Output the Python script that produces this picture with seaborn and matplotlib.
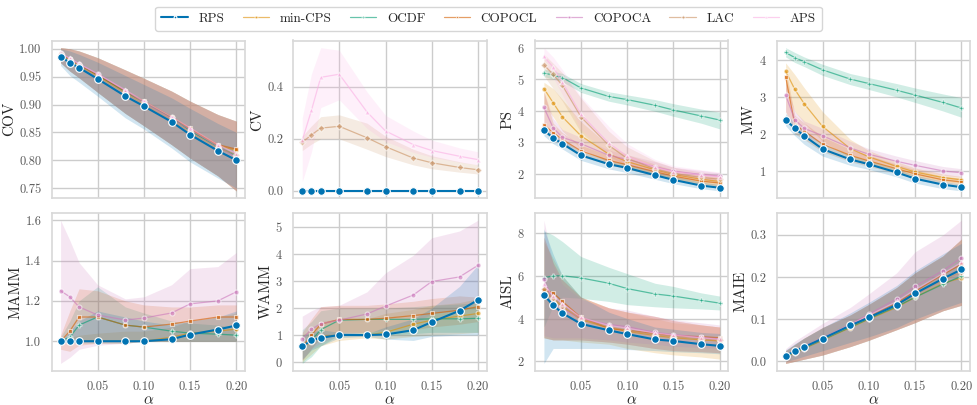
import numpy as np
import pandas as pd
import seaborn as sns
import matplotlib.pyplot as plt

# x values (significance level)
alphas = [0.01, 0.02, 0.03, 0.05, 0.08, 0.10, 0.13, 0.15, 0.18, 0.20]

methods = ["RPS", "min-CPS", "OCDF", "COPOCL", "COPOCA", "LAC", "APS"]
colors = ["#0173b2", "#de8f05", "#029e73", "#d55e00", "#cc78bc", "#ca9161", "#fbafe4"]
markers = ["o", "o", "P", "s", "o", "D", "^"]

# ---- COV ----
cov_mean = {
    "RPS": [0.986, 0.975, 0.966, 0.946, 0.915, 0.897, 0.869, 0.846, 0.817, 0.800],
    "min-CPS": [0.990, 0.980, 0.970, 0.952, 0.922, 0.904, 0.876, 0.855, 0.826, 0.818],
    "OCDF": [0.990, 0.980, 0.971, 0.953, 0.923, 0.905, 0.877, 0.853, 0.824, 0.808],
    "COPOCL": [0.991, 0.981, 0.971, 0.953, 0.924, 0.906, 0.878, 0.857, 0.828, 0.820],
    "COPOCA": [0.992, 0.982, 0.972, 0.955, 0.925, 0.904, 0.875, 0.855, 0.825, 0.805],
    "LAC": [0.990, 0.980, 0.970, 0.950, 0.920, 0.900, 0.872, 0.850, 0.822, 0.810],
    "APS": [0.992, 0.983, 0.973, 0.955, 0.926, 0.906, 0.878, 0.858, 0.828, 0.812],
}
cov_lo_rps = [0.970, 0.952, 0.940, 0.915, 0.876, 0.856, 0.822, 0.797, 0.768, 0.750]
cov_hi_rps = [1.000, 0.996, 0.990, 0.976, 0.952, 0.936, 0.912, 0.893, 0.866, 0.850]
cov_lo_oth = [0.975, 0.960, 0.948, 0.922, 0.884, 0.862, 0.828, 0.804, 0.772, 0.745]
cov_hi_oth = [1.002, 1.000, 0.996, 0.984, 0.962, 0.947, 0.924, 0.906, 0.882, 0.870]
cov_lo = {m: (cov_lo_rps if m == "RPS" else cov_lo_oth) for m in cov_mean}
cov_hi = {m: (cov_hi_rps if m == "RPS" else cov_hi_oth) for m in cov_mean}

# ---- CV ----
cv_mean = {
    "RPS": [0.0] * 10,
    "LAC": [0.187, 0.215, 0.241, 0.248, 0.204, 0.170, 0.126, 0.108, 0.090, 0.081],
    "APS": [0.194, 0.310, 0.436, 0.448, 0.303, 0.230, 0.178, 0.155, 0.133, 0.120],
}
cv_lo = {
    "RPS": [0.0] * 10,
    "LAC": [0.155, 0.180, 0.200, 0.200, 0.160, 0.132, 0.100, 0.085, 0.072, 0.065],
    "APS": [0.035, 0.150, 0.320, 0.350, 0.240, 0.190, 0.148, 0.130, 0.110, 0.100],
}
cv_hi = {
    "RPS": [0.0] * 10,
    "LAC": [0.210, 0.250, 0.285, 0.292, 0.260, 0.210, 0.160, 0.135, 0.112, 0.100],
    "APS": [0.280, 0.450, 0.550, 0.540, 0.380, 0.290, 0.230, 0.195, 0.165, 0.150],
}

# ---- PS ----
ps_mean = {
    "RPS": [3.38, 3.13, 2.95, 2.58, 2.30, 2.18, 1.95, 1.80, 1.62, 1.55],
    "min-CPS": [4.70, 4.25, 3.80, 3.20, 2.62, 2.38, 2.12, 1.97, 1.82, 1.75],
    "OCDF": [5.20, 5.12, 5.05, 4.72, 4.45, 4.35, 4.17, 4.02, 3.83, 3.70],
    "COPOCL": [3.55, 3.30, 3.08, 2.72, 2.42, 2.28, 2.06, 1.92, 1.76, 1.70],
    "COPOCA": [4.10, 3.45, 3.15, 2.95, 2.58, 2.45, 2.22, 2.08, 1.97, 1.92],
    "LAC": [5.45, 5.15, 4.80, 3.80, 2.90, 2.48, 2.15, 2.00, 1.88, 1.82],
    "APS": [5.72, 5.38, 4.90, 3.88, 2.97, 2.55, 2.20, 2.06, 1.95, 1.90],
}
ps_lo = {
    "RPS": [3.20, 2.95, 2.78, 2.42, 2.15, 2.03, 1.82, 1.68, 1.52, 1.45],
    "min-CPS": [4.20, 3.80, 3.35, 2.80, 2.35, 2.15, 1.95, 1.82, 1.68, 1.60],
    "OCDF": [5.08, 5.00, 4.92, 4.58, 4.30, 4.18, 3.98, 3.82, 3.60, 3.42],
    "COPOCL": [3.30, 3.10, 2.90, 2.55, 2.28, 2.14, 1.94, 1.80, 1.66, 1.60],
    "COPOCA": [3.50, 3.20, 2.95, 2.75, 2.40, 2.28, 2.08, 1.95, 1.85, 1.80],
    "LAC": [5.10, 4.70, 4.30, 3.30, 2.55, 2.25, 1.98, 1.86, 1.76, 1.70],
    "APS": [5.45, 5.05, 4.50, 3.40, 2.60, 2.30, 2.02, 1.90, 1.80, 1.75],
}
ps_hi = {
    "RPS": [3.50, 3.25, 3.07, 2.70, 2.42, 2.30, 2.07, 1.92, 1.73, 1.65],
    "min-CPS": [4.90, 4.70, 4.35, 3.65, 2.90, 2.60, 2.30, 2.12, 1.95, 1.88],
    "OCDF": [5.32, 5.25, 5.18, 4.86, 4.60, 4.50, 4.35, 4.22, 4.05, 3.95],
    "COPOCL": [4.60, 3.60, 3.30, 2.90, 2.58, 2.42, 2.20, 2.05, 1.88, 1.80],
    "COPOCA": [4.60, 3.75, 3.40, 3.15, 2.75, 2.60, 2.38, 2.20, 2.10, 2.02],
    "LAC": [5.80, 5.50, 5.20, 4.40, 3.35, 2.85, 2.40, 2.20, 2.05, 1.95],
    "APS": [6.00, 5.70, 5.30, 4.45, 3.50, 2.95, 2.45, 2.25, 2.12, 2.05],
}

# ---- MW ----
mw_mean = {
    "RPS": [2.38, 2.15, 1.95, 1.59, 1.31, 1.18, 0.96, 0.79, 0.63, 0.56],
    "min-CPS": [3.70, 3.20, 2.82, 2.20, 1.60, 1.38, 1.12, 0.97, 0.82, 0.76],
    "OCDF": [4.20, 4.06, 3.95, 3.73, 3.48, 3.36, 3.18, 3.05, 2.85, 2.70],
    "COPOCL": [3.55, 2.25, 2.08, 1.72, 1.42, 1.27, 1.06, 0.92, 0.76, 0.70],
    "COPOCA": [3.05, 2.38, 2.15, 1.95, 1.62, 1.45, 1.26, 1.15, 1.00, 0.95],
}
mw_lo = {
    "RPS": [2.22, 1.95, 1.72, 1.40, 1.15, 1.04, 0.84, 0.67, 0.52, 0.46],
    "min-CPS": [3.20, 2.60, 2.30, 1.80, 1.35, 1.20, 0.98, 0.85, 0.72, 0.66],
    "OCDF": [4.08, 3.93, 3.82, 3.58, 3.33, 3.20, 3.00, 2.85, 2.62, 2.45],
    "COPOCL": [2.60, 2.00, 1.85, 1.52, 1.25, 1.12, 0.94, 0.80, 0.66, 0.60],
    "COPOCA": [2.60, 2.15, 1.95, 1.75, 1.45, 1.30, 1.12, 1.02, 0.88, 0.83],
}
mw_hi = {
    "RPS": [2.55, 2.30, 2.10, 1.72, 1.42, 1.28, 1.05, 0.88, 0.72, 0.64],
    "min-CPS": [3.92, 3.60, 3.25, 2.60, 1.85, 1.55, 1.25, 1.08, 0.92, 0.85],
    "OCDF": [4.33, 4.20, 4.08, 3.88, 3.63, 3.52, 3.36, 3.24, 3.08, 2.98],
    "COPOCL": [3.75, 2.50, 2.30, 1.92, 1.58, 1.42, 1.18, 1.03, 0.86, 0.80],
    "COPOCA": [3.40, 2.60, 2.35, 2.15, 1.80, 1.60, 1.40, 1.28, 1.12, 1.06],
}

# ---- MAMM ----
mamm_mean = {
    "RPS": [1.0, 1.0, 1.0, 1.0, 1.0, 1.0, 1.01, 1.033, 1.058, 1.078],
    "min-CPS": [1.0, 1.0, 1.0, 1.0, 1.0, 1.0, 1.02, 1.04, 1.05, 1.06],
    "OCDF": [1.0, 1.02, 1.08, 1.12, 1.08, 1.07, 1.05, 1.04, 1.035, 1.03],
    "COPOCL": [1.0, 1.05, 1.12, 1.12, 1.08, 1.07, 1.085, 1.10, 1.12, 1.12],
    "COPOCA": [1.25, 1.22, 1.17, 1.13, 1.105, 1.115, 1.14, 1.185, 1.20, 1.245],
}
mamm_lo = {
    "RPS": [1.0] * 10,
    "min-CPS": [1.0] * 10,
    "OCDF": [1.0, 0.99, 0.99, 0.99, 0.99, 1.0, 1.0, 1.0, 1.0, 1.0],
    "COPOCL": [0.96, 0.95, 0.98, 0.99, 0.99, 1.0, 1.0, 1.0, 1.0, 1.0],
    "COPOCA": [0.89, 0.92, 0.96, 0.98, 0.99, 1.0, 1.0, 1.0, 1.0, 1.0],
}
mamm_hi = {
    "RPS": [1.0, 1.05, 1.10, 1.15, 1.12, 1.10, 1.08, 1.10, 1.12, 1.15],
    "min-CPS": [1.0, 1.02, 1.03, 1.04, 1.05, 1.05, 1.07, 1.10, 1.12, 1.14],
    "OCDF": [1.02, 1.10, 1.20, 1.27, 1.17, 1.14, 1.10, 1.09, 1.08, 1.07],
    "COPOCL": [1.03, 1.15, 1.26, 1.25, 1.20, 1.18, 1.17, 1.17, 1.18, 1.18],
    "COPOCA": [1.60, 1.50, 1.39, 1.28, 1.21, 1.22, 1.28, 1.36, 1.37, 1.44],
}

# ---- WAMM ----
wamm_mean = {
    "RPS": [0.58, 0.80, 0.90, 1.00, 1.00, 1.02, 1.18, 1.48, 1.90, 2.30],
    "min-CPS": [0.55, 0.75, 0.95, 1.00, 1.00, 1.10, 1.40, 1.55, 1.70, 1.80],
    "OCDF": [0.60, 0.80, 1.20, 1.55, 1.58, 1.58, 1.58, 1.60, 1.60, 1.62],
    "COPOCL": [0.55, 1.00, 1.40, 1.58, 1.58, 1.62, 1.72, 1.80, 1.92, 2.05],
    "COPOCA": [0.85, 1.22, 1.42, 1.55, 1.78, 2.07, 2.48, 2.98, 3.15, 3.58],
}
wamm_lo = {
    "RPS": [0.10, 0.45, 0.60, 0.90, 0.95, 0.85, 0.80, 0.95, 1.00, 1.00],
    "min-CPS": [0.00, 0.30, 0.60, 0.80, 0.90, 0.85, 0.95, 1.00, 1.05, 1.10],
    "OCDF": [-0.05, 0.20, 0.60, 1.00, 1.05, 1.00, 1.05, 1.10, 1.10, 1.10],
    "COPOCL": [0.05, 0.50, 0.90, 1.10, 1.10, 1.10, 1.20, 1.30, 1.40, 1.50],
    "COPOCA": [0.10, 0.50, 0.70, 1.00, 1.10, 1.20, 1.40, 1.80, 1.90, 2.20],
}
wamm_hi = {
    "RPS": [1.00, 1.10, 1.20, 1.10, 1.05, 1.30, 1.60, 2.00, 2.80, 3.60],
    "min-CPS": [1.00, 1.20, 1.50, 1.60, 1.60, 1.80, 1.95, 2.10, 2.20, 2.35],
    "OCDF": [1.20, 1.50, 1.90, 2.00, 2.00, 2.00, 2.05, 2.10, 2.15, 2.20],
    "COPOCL": [1.10, 1.60, 2.05, 2.10, 2.10, 2.15, 2.25, 2.35, 2.45, 2.40],
    "COPOCA": [1.70, 1.90, 2.05, 2.10, 2.60, 3.30, 3.95, 4.60, 4.85, 5.25],
}

# ---- AISL ----
aisl_mean = {
    "RPS": [5.10, 4.62, 4.25, 3.75, 3.45, 3.27, 3.02, 2.95, 2.80, 2.72],
    "min-CPS": [5.30, 4.90, 4.55, 3.95, 3.55, 3.40, 3.20, 3.10, 3.00, 2.95],
    "OCDF": [5.90, 6.00, 6.00, 5.90, 5.65, 5.40, 5.15, 5.05, 4.85, 4.72],
    "COPOCL": [5.35, 5.20, 4.80, 4.05, 3.55, 3.45, 3.30, 3.20, 3.15, 3.10],
    "COPOCA": [5.85, 4.75, 4.45, 4.00, 3.72, 3.62, 3.35, 3.25, 3.12, 3.05],
    "LAC": [5.40, 4.95, 4.60, 4.00, 3.60, 3.45, 3.25, 3.15, 3.05, 3.00],
    "APS": [5.60, 5.05, 4.70, 4.05, 3.68, 3.55, 3.32, 3.22, 3.10, 3.02],
}
aisl_lo_a = [3.1, 3.0, 3.0, 3.0, 2.9, 2.8, 2.6, 2.5, 2.45, 2.4]
aisl_hi_a = [7.8, 6.6, 5.8, 5.0, 4.5, 4.3, 4.1, 3.9, 3.7, 3.6]
aisl_lo = {
    "RPS": [1.9, 2.6, 2.6, 2.6, 2.6, 2.55, 2.5, 2.45, 2.4, 2.35],
    "min-CPS": [3.1, 3.0, 3.0, 2.9, 2.8, 2.6, 2.4, 2.3, 2.2, 2.1],
    "OCDF": [3.6, 4.6, 5.0, 4.95, 4.8, 4.65, 4.55, 4.5, 4.45, 4.4],
    "COPOCL": aisl_lo_a,
    "COPOCA": [3.2, 3.1, 3.1, 3.1, 3.0, 2.9, 2.8, 2.7, 2.65, 2.6],
    "LAC": aisl_lo_a,
    "APS": aisl_lo_a,
}
aisl_hi = {
    "RPS": [8.2, 7.0, 6.0, 5.0, 4.3, 4.0, 3.6, 3.5, 3.35, 3.3],
    "min-CPS": [7.6, 6.8, 6.0, 5.0, 4.5, 4.3, 4.0, 3.8, 3.7, 3.6],
    "OCDF": [8.1, 7.9, 7.6, 6.9, 6.4, 6.1, 5.65, 5.5, 5.2, 5.05],
    "COPOCL": aisl_hi_a,
    "COPOCA": [8.6, 6.5, 5.6, 4.9, 4.5, 4.4, 4.1, 3.95, 3.8, 3.7],
    "LAC": aisl_hi_a,
    "APS": aisl_hi_a,
}

# ---- MAIE ----
maie_mean = {
    "RPS": [0.013, 0.024, 0.034, 0.054, 0.085, 0.104, 0.134, 0.161, 0.196, 0.218],
    "min-CPS": [0.010, 0.020, 0.030, 0.050, 0.080, 0.100, 0.128, 0.152, 0.185, 0.198],
    "OCDF": [0.010, 0.021, 0.031, 0.051, 0.081, 0.101, 0.130, 0.152, 0.183, 0.202],
    "COPOCL": [0.012, 0.023, 0.034, 0.054, 0.086, 0.106, 0.138, 0.166, 0.206, 0.230],
    "COPOCA": [0.014, 0.025, 0.036, 0.056, 0.088, 0.112, 0.148, 0.178, 0.215, 0.246],
    "LAC": [0.011, 0.022, 0.032, 0.052, 0.083, 0.103, 0.133, 0.158, 0.192, 0.212],
    "APS": [0.013, 0.024, 0.035, 0.055, 0.087, 0.109, 0.142, 0.170, 0.208, 0.235],
}
maie_lo_a = [-0.005, 0.000, 0.005, 0.015, 0.035, 0.050, 0.075, 0.092, 0.120, 0.133]
maie_hi_a = [0.025, 0.040, 0.055, 0.080, 0.110, 0.135, 0.175, 0.210, 0.250, 0.290]
maie_lo = {m: maie_lo_a for m in maie_mean}
maie_lo["RPS"] = [0.000, 0.005, 0.012, 0.025, 0.045, 0.058, 0.080, 0.100, 0.125, 0.140]
maie_hi = {m: maie_hi_a for m in maie_mean}
maie_hi["RPS"] = [0.027, 0.042, 0.055, 0.080, 0.115, 0.140, 0.180, 0.215, 0.255, 0.280]
maie_hi["COPOCA"] = [0.030, 0.048, 0.062, 0.090, 0.128, 0.160, 0.210, 0.260, 0.300, 0.335]

panels = [
    ("COV", cov_mean, cov_lo, cov_hi),
    ("CV", cv_mean, cv_lo, cv_hi),
    ("PS", ps_mean, ps_lo, ps_hi),
    ("MW", mw_mean, mw_lo, mw_hi),
    ("MAMM", mamm_mean, mamm_lo, mamm_hi),
    ("WAMM", wamm_mean, wamm_lo, wamm_hi),
    ("AISL", aisl_mean, aisl_lo, aisl_hi),
    ("MAIE", maie_mean, maie_lo, maie_hi),
]

sns.set_theme(style="whitegrid")
plt.rcParams["font.family"] = ["cmr10", "DejaVu Serif"]
plt.rcParams["mathtext.fontset"] = "cm"
plt.rcParams["axes.formatter.use_mathtext"] = True
plt.rcParams["axes.unicode_minus"] = False

fig, axes = plt.subplots(2, 4, figsize=(9.77, 4.05), dpi=100, sharex=True)
fig.subplots_adjust(left=0.053, right=0.993, top=0.9, bottom=0.085, wspace=0.25, hspace=0.095)

for ax, (name, mean_d, lo_d, hi_d) in zip(axes.flat, panels):
    # other methods first, RPS on top
    order = [m for m in methods[1:] if m in mean_d] + ["RPS"]
    for m in order:
        i = methods.index(m)
        df = pd.DataFrame({
            "alpha": alphas * 3,
            "value": lo_d[m] + mean_d[m] + hi_d[m],
        })
        if m == "RPS":
            kw = dict(lw=1.5, markersize=5.5, alpha=1.0, zorder=10)
        else:
            kw = dict(lw=0.9, markersize=3.5, alpha=0.6)
        sns.lineplot(data=df, x="alpha", y="value", ax=ax, estimator="median",
                     errorbar=("pi", 100), color=colors[i], marker=markers[i],
                     markeredgecolor="white", markeredgewidth=0.8, label=m,
                     legend=False, err_kws=dict(alpha=0.18, lw=0), **kw)
    ax.set_ylabel(name, fontsize=11, labelpad=2)
    if name in ("MAMM", "WAMM", "AISL", "MAIE"):
        ax.set_xlabel(r"$\alpha$", fontsize=11, labelpad=0)
    else:
        ax.set_xlabel("")
    ax.tick_params(labelsize=9, colors="0.35", pad=1.5)
    for s in ax.spines.values():
        s.set_color("0.85")

axes[0, 0].set_yticks([0.75, 0.80, 0.85, 0.90, 0.95, 1.00])
axes[0, 1].set_yticks([0.0, 0.2, 0.4])
axes[0, 2].set_yticks([2, 3, 4, 5, 6])
axes[0, 3].set_yticks([1, 2, 3, 4])
axes[1, 0].set_yticks([1.0, 1.2, 1.4, 1.6])
axes[1, 1].set_yticks([0, 1, 2, 3, 4, 5])
axes[1, 2].set_yticks([2, 4, 6, 8])
axes[1, 3].set_yticks([0.0, 0.1, 0.2, 0.3])
axes[1, 0].set_xticks([0.05, 0.10, 0.15, 0.20])
axes[1, 0].xaxis.set_major_formatter(plt.FormatStrFormatter("%.2f"))
axes[0, 0].yaxis.set_major_formatter(plt.FormatStrFormatter("%.2f"))
axes[0, 1].yaxis.set_major_formatter(plt.FormatStrFormatter("%.1f"))
axes[1, 0].yaxis.set_major_formatter(plt.FormatStrFormatter("%.1f"))
axes[1, 3].yaxis.set_major_formatter(plt.FormatStrFormatter("%.1f"))

handles, labels = axes[0, 2].get_legend_handles_labels()
hmap = dict(zip(labels, handles))
leg = fig.legend([hmap[m] for m in methods], methods, loc="upper center",
                 bbox_to_anchor=(0.5, 1.0), ncol=7, fontsize=9.5, frameon=True,
                 handlelength=2.0, columnspacing=1.4, borderpad=0.45)
for h in leg.legend_handles:
    h.set_markersize(2)

fig.savefig("out.png", dpi=100)
